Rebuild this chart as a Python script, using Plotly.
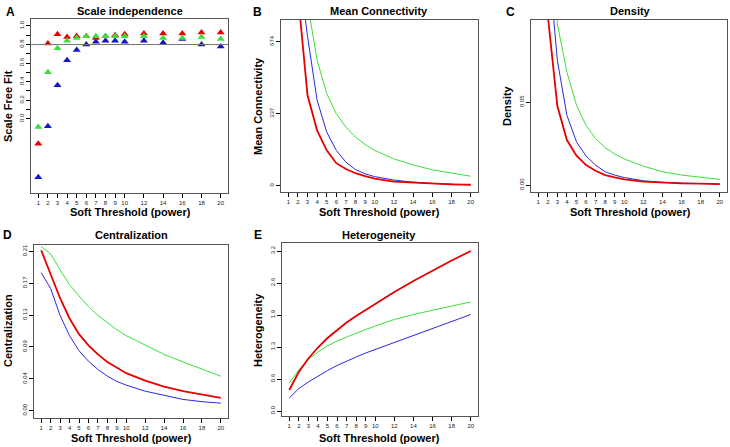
import plotly.graph_objects as go

W, H = 730, 447

powers = [1, 2, 3, 4, 5, 6, 7, 8, 9, 10, 12, 14, 16, 18, 20]
x_ticks = [1, 2, 3, 4, 5, 6, 7, 8, 9, 10, 12, 14, 16, 18, 20]

# A: scale free fit
sft_red = [-0.27, 0.81, 0.91, 0.88, 0.89, 0.89, 0.87, 0.89, 0.90, 0.91, 0.92, 0.92, 0.92, 0.93, 0.93]
sft_green = [-0.09, 0.50, 0.76, 0.84, 0.87, 0.89, 0.89, 0.89, 0.89, 0.89, 0.89, 0.87, 0.87, 0.88, 0.86]
sft_blue = [-0.63, -0.08, 0.36, 0.63, 0.74, 0.80, 0.83, 0.84, 0.84, 0.83, 0.84, 0.82, 0.86, 0.80, 0.78]
a_ticks = [0.0, 0.1, 0.2, 0.3, 0.4, 0.5, 0.6, 0.7, 0.8, 0.9, 1.0]
a_labels = ["0.0", "", "0.2", "", "0.4", "", "0.6", "", "0.8", "", "1.0"]
cutoff = 0.8

# B: mean connectivity
k_red = [2300, 900, 423, 259, 165, 105, 78, 58, 44, 33, 19, 14, 9, 6, 4]
k_blue = [2800, 1050, 700, 400, 251, 165, 110, 75, 55, 42, 26, 16, 10, 6, 4]
k_green = [3500, 1700, 857, 588, 431, 337, 274, 227, 193, 165, 125, 97, 74, 58, 44]
b_ticks = [0, 337, 674]
b_labels = ["0", "337", "674"]

# C: density
d_red = [0.30, 0.102, 0.0476, 0.0271, 0.0177, 0.012, 0.0086, 0.006, 0.0046, 0.0034, 0.0020, 0.0014, 0.0010, 0.0008, 0.0006]
d_blue = [0.35, 0.14, 0.075, 0.042, 0.026, 0.0175, 0.012, 0.008, 0.006, 0.0045, 0.0026, 0.0016, 0.0012, 0.0008, 0.0006]
d_green = [0.45, 0.20, 0.097, 0.068, 0.048, 0.036, 0.028, 0.0225, 0.0187, 0.0157, 0.0114, 0.008, 0.006, 0.0046, 0.0034]
c_ticks = [0.0, 0.05]
c_labels = ["0.00", "0.05"]

# D: centralization
c_red = [0.214, 0.183, 0.150, 0.123, 0.102, 0.087, 0.075, 0.065, 0.057, 0.050, 0.040, 0.032, 0.026, 0.021, 0.017]
c_blue = [0.184, 0.163, 0.127, 0.100, 0.080, 0.066, 0.055, 0.046, 0.039, 0.034, 0.026, 0.020, 0.015, 0.012, 0.010]
c_green = [0.219, 0.209, 0.188, 0.168, 0.153, 0.139, 0.127, 0.117, 0.108, 0.100, 0.087, 0.075, 0.065, 0.055, 0.046]
dd_ticks = [0.0, 0.0425, 0.085, 0.1275, 0.17, 0.2125]
dd_labels = ["0.00", "0.04", "0.09", "0.13", "0.17", "0.21"]

# E: heterogeneity
h_red = [0.42, 0.78, 1.05, 1.27, 1.46, 1.62, 1.77, 1.90, 2.02, 2.14, 2.38, 2.60, 2.81, 3.01, 3.20]
h_blue = [0.26, 0.45, 0.58, 0.70, 0.81, 0.91, 1.00, 1.08, 1.16, 1.23, 1.38, 1.52, 1.66, 1.80, 1.93]
h_green = [0.56, 0.82, 1.03, 1.18, 1.30, 1.40, 1.48, 1.56, 1.63, 1.70, 1.83, 1.93, 2.02, 2.10, 2.18]
e_ticks = [0.0, 0.64, 1.28, 1.92, 2.56, 3.2]
e_labels = ["0.0", "0.6", "1.3", "1.9", "2.6", "3.2"]

RED = "#E60000"
BLUE = "#2A2ADF"
GREEN = "#3ADF3A"
MBLUE = "#1414C8"
FONT = "Liberation Sans, Arial, sans-serif"


def px(x0, x1):
    return [x0 / W, x1 / W]


def py(top, bottom):
    return [1 - bottom / H, 1 - top / H]


panels = {
    1: dict(dx=px(31, 228), dy=py(19, 193), yr=[-0.80, 1.075], yt=a_ticks, yl=a_labels),
    2: dict(dx=px(281, 478), dy=py(20, 192), yr=[-30, 776], yt=b_ticks, yl=b_labels),
    3: dict(dx=px(531, 727), dy=py(20, 192), yr=[-0.0042, 0.0994], yt=c_ticks, yl=c_labels),
    4: dict(dx=px(34, 228), dy=py(245, 418), yr=[-0.0098, 0.221], yt=dd_ticks, yl=dd_labels),
    5: dict(dx=px(282, 478), dy=py(243, 416), yr=[-0.10, 3.36], yt=e_ticks, yl=e_labels),
}

fig = go.Figure()

# A scatter
for vals, col in [(sft_blue, MBLUE), (sft_red, RED), (sft_green, GREEN)]:
    fig.add_trace(go.Scatter(x=powers, y=vals, mode="markers", xaxis="x", yaxis="y",
                             marker=dict(symbol="triangle-up", size=7, color=col),
                             showlegend=False, hoverinfo="skip"))

series = {
    2: (k_red, k_blue, k_green),
    3: (d_red, d_blue, d_green),
    4: (c_red, c_blue, c_green),
    5: (h_red, h_blue, h_green),
}
for i, (r, b, g) in series.items():
    xa, ya = f"x{i}", f"y{i}"
    fig.add_trace(go.Scatter(x=powers, y=g, mode="lines", xaxis=xa, yaxis=ya,
                             line=dict(color=GREEN, width=1), showlegend=False, hoverinfo="skip"))
    fig.add_trace(go.Scatter(x=powers, y=b, mode="lines", xaxis=xa, yaxis=ya,
                             line=dict(color=BLUE, width=1), showlegend=False, hoverinfo="skip"))
    fig.add_trace(go.Scatter(x=powers, y=r, mode="lines", xaxis=xa, yaxis=ya,
                             line=dict(color=RED, width=1.8), showlegend=False, hoverinfo="skip"))

layout = dict(width=W, height=H, margin=dict(l=0, r=0, t=0, b=0),
              paper_bgcolor="white", plot_bgcolor="white", showlegend=False,
              font=dict(family=FONT, color="black"))

for i, p in panels.items():
    sx = "" if i == 1 else str(i)
    layout[f"xaxis{sx}"] = dict(domain=p["dx"], anchor=f"y{sx}", range=[0.24, 20.76],
                                tickvals=x_ticks, ticktext=[str(v) for v in x_ticks],
                                ticks="outside", ticklen=4, tickcolor="black", tickwidth=1,
                                showline=True, linecolor="#555555", mirror=True, linewidth=1,
                                showgrid=False, zeroline=False,
                                tickfont=dict(size=6, family=FONT, color="#222"), fixedrange=True)
    layout[f"yaxis{sx}"] = dict(domain=p["dy"], anchor=f"x{sx}", range=p["yr"],
                                tickvals=p["yt"], ticktext=p["yl"], tickangle=-90,
                                ticks="outside", ticklen=4, tickcolor="black", tickwidth=1,
                                showline=True, linecolor="#555555", mirror=True, linewidth=1,
                                showgrid=False, zeroline=False,
                                tickfont=dict(size=6, family=FONT, color="#222"), fixedrange=True)

fig.update_layout(**layout)

# cutoff line in panel A
fig.add_shape(type="line", xref="x domain", yref="y", x0=0, x1=1, y0=cutoff, y1=cutoff,
              line=dict(color="#777777", width=1))


def ann(text, x, y, size=11, angle=0):
    fig.add_annotation(text=text, x=x / W, y=1 - y / H, xref="paper", yref="paper",
                       xanchor="center", yanchor="middle", showarrow=False, textangle=angle,
                       font=dict(family=FONT, size=size, color="black"))


# panel letters
for letter, x, y in [("A", 10, 12), ("B", 257, 12), ("C", 510, 12), ("D", 7, 235), ("E", 258, 235)]:
    ann(f"<b>{letter}</b>", x, y, size=12)

# titles
for t, x, y in [("Scale independence", 130, 11), ("Mean Connectivity", 379, 11), ("Density", 630, 11),
                ("Centralization", 131, 235), ("Heterogeneity", 379, 235)]:
    ann(f"<b>{t}</b>", x, y, size=11)

# x titles
for x, y in [(130, 212), (379, 212), (630, 212), (131, 438), (379, 438)]:
    ann("<b>Soft Threshold (power)</b>", x, y, size=11)

# y titles
for t, x, y in [("Scale Free Fit", 8, 106), ("Mean Connectivity", 258, 106), ("Density", 507, 106),
                ("Centralization", 8, 331), ("Heterogeneity", 258, 330)]:
    ann(f"<b>{t}</b>", x, y, size=11, angle=-90)

fig.write_html("out.html", config={"displayModeBar": False},
               post_script="document.body.style.margin='0px';document.body.style.overflow='hidden';")
